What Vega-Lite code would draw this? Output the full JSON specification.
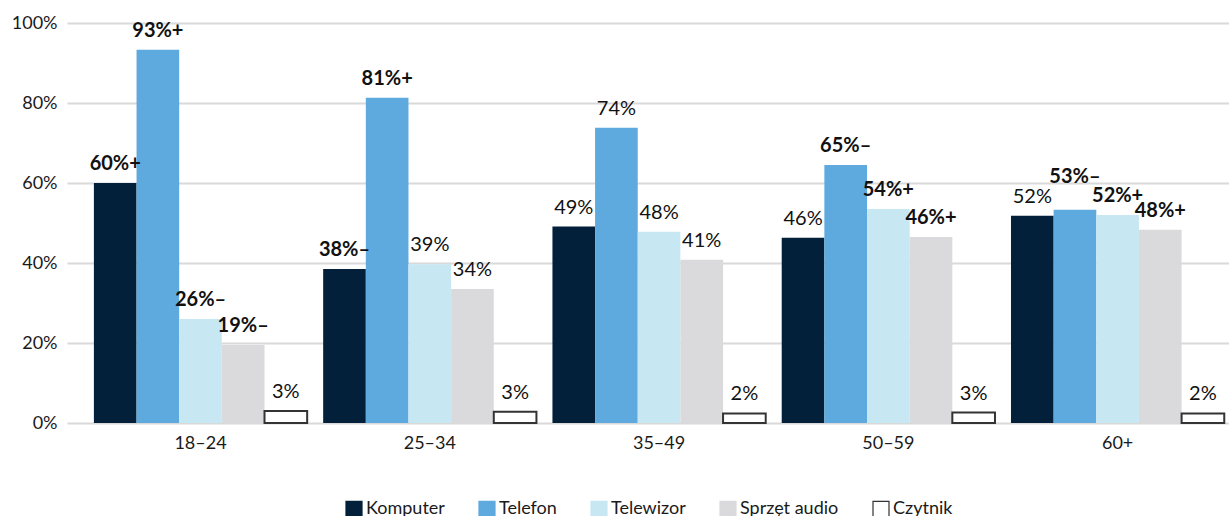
{
  "$schema": "https://vega.github.io/schema/vega-lite/v6.json",
  "autosize": {"type": "none"},
  "width": 1162,
  "height": 400,
  "padding": {"left": 67, "top": 23, "right": 0, "bottom": 93},
  "background": "white",
  "config": {
    "font": "Lato",
    "view": {"stroke": null},
    "axis": {"labelFont": "Lato", "labelColor": "#1a1a1a"}
  },
  "data": {
    "values": [
      {"age": "18–24", "device": "Komputer", "value": 60, "label": "60%+"},
      {"age": "18–24", "device": "Telefon", "value": 93.3, "label": "93%+"},
      {"age": "18–24", "device": "Telewizor", "value": 26, "label": "26%–"},
      {"age": "18–24", "device": "Sprzęt audio", "value": 19.5, "label": "19%–"},
      {"age": "18–24", "device": "Czytnik", "value": 3, "label": "3%"},
      {"age": "25–34", "device": "Komputer", "value": 38.5, "label": "38%–"},
      {"age": "25–34", "device": "Telefon", "value": 81.3, "label": "81%+"},
      {"age": "25–34", "device": "Telewizor", "value": 39.7, "label": "39%"},
      {"age": "25–34", "device": "Sprzęt audio", "value": 33.5, "label": "34%"},
      {"age": "25–34", "device": "Czytnik", "value": 2.8, "label": "3%"},
      {"age": "35–49", "device": "Komputer", "value": 49.1, "label": "49%"},
      {"age": "35–49", "device": "Telefon", "value": 73.8, "label": "74%"},
      {"age": "35–49", "device": "Telewizor", "value": 47.8, "label": "48%"},
      {"age": "35–49", "device": "Sprzęt audio", "value": 40.8, "label": "41%"},
      {"age": "35–49", "device": "Czytnik", "value": 2.4, "label": "2%"},
      {"age": "50–59", "device": "Komputer", "value": 46.3, "label": "46%"},
      {"age": "50–59", "device": "Telefon", "value": 64.5, "label": "65%–"},
      {"age": "50–59", "device": "Telewizor", "value": 53.5, "label": "54%+"},
      {"age": "50–59", "device": "Sprzęt audio", "value": 46.5, "label": "46%+"},
      {"age": "50–59", "device": "Czytnik", "value": 2.6, "label": "3%"},
      {"age": "60+", "device": "Komputer", "value": 51.8, "label": "52%"},
      {"age": "60+", "device": "Telefon", "value": 53.3, "label": "53%–"},
      {"age": "60+", "device": "Telewizor", "value": 52, "label": "52%+"},
      {"age": "60+", "device": "Sprzęt audio", "value": 48.3, "label": "48%+"},
      {"age": "60+", "device": "Czytnik", "value": 2.4, "label": "2%"}
    ]
  },
  "encoding": {
    "x": {
      "field": "age",
      "type": "nominal",
      "sort": ["18–24", "25–34", "35–49", "50–59", "60+"],
      "scale": {"paddingInner": 0.0698, "paddingOuter": 0.069, "align": 0.85},
      "axis": {
        "title": null,
        "labelAngle": 0,
        "domain": false,
        "ticks": false,
        "labelFontSize": 18,
        "labelPadding": 11
      }
    },
    "xOffset": {
      "field": "device",
      "type": "nominal",
      "sort": ["Komputer", "Telefon", "Telewizor", "Sprzęt audio", "Czytnik"],
      "scale": {"paddingInner": 0, "paddingOuter": 0}
    },
    "y": {
      "field": "value",
      "type": "quantitative",
      "scale": {"domain": [0, 100], "nice": false},
      "axis": {
        "title": null,
        "values": [0, 20, 40, 60, 80, 100],
        "labelExpr": "datum.value + '%'",
        "domain": false,
        "ticks": false,
        "labelFontSize": 18,
        "labelPadding": 10,
        "gridColor": "#d9d9d9",
        "gridWidth": 2
      }
    }
  },
  "layer": [
    {
      "mark": {"type": "bar"},
      "encoding": {
        "fill": {
          "field": "device",
          "type": "nominal",
          "sort": ["Komputer", "Telefon", "Telewizor", "Sprzęt audio", "Czytnik"],
          "scale": {
            "domain": ["Komputer", "Telefon", "Telewizor", "Sprzęt audio", "Czytnik"],
            "range": ["#02203a", "#5eaade", "#c7e8f3", "#dadadc", "#ffffff"]
          },
          "legend": {
            "title": null,
            "orient": "none",
            "direction": "horizontal",
            "legendX": 278,
            "legendY": 477,
            "symbolType": "square",
            "symbolSize": 256,
            "symbolStrokeWidth": 1.2,
            "labelFontSize": 18,
            "labelFont": "Lato",
            "labelColor": "#1a1a1a",
            "labelOffset": 3,
            "columnPadding": 31
          }
        },
        "stroke": {
          "field": "device",
          "type": "nominal",
          "scale": {
            "domain": ["Komputer", "Telefon", "Telewizor", "Sprzęt audio", "Czytnik"],
            "range": ["#02203a", "#5eaade", "#c7e8f3", "#dadadc", "#333333"]
          },
          "legend": null
        },
        "strokeWidth": {
          "condition": {"test": "datum.device === 'Czytnik'", "value": 2},
          "value": 0
        }
      }
    },
    {
      "transform": [{"filter": "indexof(datum.label, '+') < 0 && indexof(datum.label, '–') < 0"}],
      "mark": {"type": "text", "baseline": "alphabetic", "dy": -13, "fontSize": 20, "color": "#111111"},
      "encoding": {
        "text": {"field": "label"}
      }
    },
    {
      "transform": [{"filter": "(indexof(datum.label, '+') >= 0 || indexof(datum.label, '–') >= 0) && !(datum.age === '60+' && datum.device === 'Telefon')"}],
      "mark": {"type": "text", "baseline": "alphabetic", "dy": -13, "fontSize": 20, "color": "#111111", "fontWeight": "bold"},
      "encoding": {
        "text": {"field": "label"}
      }
    },
    {
      "transform": [{"filter": "datum.age === '60+' && datum.device === 'Telefon'"}],
      "mark": {"type": "text", "baseline": "alphabetic", "dy": -27, "fontSize": 20, "color": "#111111", "fontWeight": "bold"},
      "encoding": {
        "text": {"field": "label"}
      }
    }
  ]
}
